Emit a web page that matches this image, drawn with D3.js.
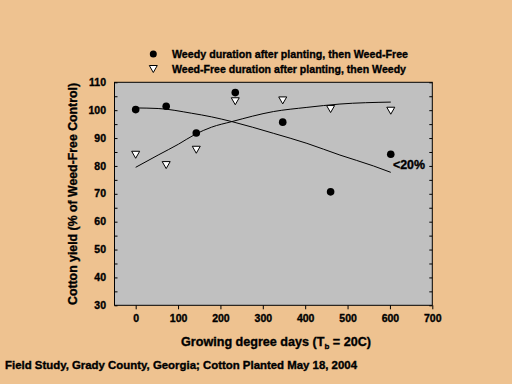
<!DOCTYPE html>
<html>
<head>
<meta charset="utf-8">
<script src="https://cdn.jsdelivr.net/npm/d3@7"></script>
<style>
  html, body { margin: 0; padding: 0; background: #eec290; }
  svg { display: block; font-family: 'Liberation Sans', Arial, sans-serif; font-weight: bold; }
  svg text { stroke: #000; stroke-width: 0.35px; }
</style>
</head>
<body>
<div id="chart"></div>
<script>
// growing degree days where yield was sampled
const gdd = [0, 72, 143, 235, 347, 460, 602];
// weedy duration after planting, then weed-free
const weedyYield = [100.2, 101.4, 91.8, 106.3, 95.7, 70.7, 84.2];
// weed-free duration after planting, then weedy
const weedFreeYield = [84, 80.3, 85.8, 103.2, 103.5, 100.4, 99.8];

// fitted trend lines
const weedyFitX = [0, 53, 132, 179, 227, 325, 404, 482, 561, 602];
const weedyFitY = [100.8, 100.6, 98.9, 97.6, 95.9, 91.7, 88.1, 83.9, 80.0, 77.7];
const weedFreeFitX = [0, 53, 101, 140, 179, 227, 325, 404, 482, 602];
const weedFreeFitY = [79.5, 83.9, 87.8, 91.3, 93.9, 95.9, 99.5, 101.0, 102.2, 102.9];

const xTicks = [0, 100, 200, 300, 400, 500, 600, 700];
const yTicks = [30, 40, 50, 60, 70, 80, 90, 100, 110];
const yMinorTicks = d3.range(30, 111, 5);

const legendLabels = [
  'Weedy duration after planting, then Weed-Free',
  'Weed-Free duration after planting, then Weedy'
];

const WIDTH = 512;
const HEIGHT = 384;

const svg = d3
  .select('#chart')
  .append('svg')
  .attr('width', WIDTH)
  .attr('height', HEIGHT);

svg.append('rect')
  .attr('width', WIDTH)
  .attr('height', HEIGHT)
  .attr('fill', '#eec290');

const x = d3.scaleLinear().domain([-50, 700]).range([114.5, 432.3]);
const y = d3.scaleLinear().domain([30, 110]).range([305.3, 82.3]);

// plot area
svg.append('rect')
  .attr('x', x(-50))
  .attr('y', y(110))
  .attr('width', x(700) - x(-50))
  .attr('height', y(30) - y(110))
  .attr('fill', '#c0c0c0')
  .attr('stroke', '#000')
  .attr('stroke-width', 1);

// left axis: small inside ticks every 5, labels every 10
const leftAxis = svg.append('g')
  .attr('transform', `translate(${x(-50)},0)`)
  .call(d3.axisRight(y).tickValues(yMinorTicks).tickSize(3).tickFormat(''));
leftAxis.select('.domain').remove();
leftAxis.selectAll('line').attr('stroke', '#000');

svg.append('g')
  .selectAll('text')
  .data(yTicks)
  .join('text')
  .attr('x', 106)
  .attr('y', (d) => y(d))
  .attr('dy', '0.35em')
  .attr('text-anchor', 'end')
  .attr('font-size', 10.5)
  .attr('fill', '#000')
  .text((d) => d);

// right axis, ticks pointing in
const rightAxis = svg.append('g')
  .attr('transform', `translate(${x(700)},0)`)
  .call(d3.axisLeft(y).tickValues(yMinorTicks).tickSize(3).tickFormat(''));
rightAxis.select('.domain').remove();
rightAxis.selectAll('line').attr('stroke', '#000');

// bottom axis
const bottomAxis = svg.append('g')
  .attr('transform', `translate(0,${y(30)})`)
  .call(d3.axisBottom(x).tickValues(xTicks).tickSize(4).tickPadding(5));
bottomAxis.select('.domain').remove();
bottomAxis.selectAll('line').attr('stroke', '#000');
bottomAxis.selectAll('text')
  .attr('font-size', 10.5)
  .attr('font-family', "'Liberation Sans', Arial, sans-serif")
  .attr('font-weight', 'bold')
  .attr('fill', '#000');

// trend lines
const line = d3.line()
  .x((d) => x(d[0]))
  .y((d) => y(d[1]))
  .curve(d3.curveMonotoneX);

svg.append('path')
  .datum(d3.zip(weedyFitX, weedyFitY))
  .attr('d', line)
  .attr('fill', 'none')
  .attr('stroke', '#000')
  .attr('stroke-width', 1);

svg.append('path')
  .datum(d3.zip(weedFreeFitX, weedFreeFitY))
  .attr('d', line)
  .attr('fill', 'none')
  .attr('stroke', '#000')
  .attr('stroke-width', 1);

// markers
const triangle = (cx, cy) => `M${cx - 4},${cy - 3.5}L${cx + 4},${cy - 3.5}L${cx},${cy + 3.5}Z`;

svg.append('g')
  .selectAll('circle')
  .data(d3.zip(gdd, weedyYield))
  .join('circle')
  .attr('cx', (d) => x(d[0]))
  .attr('cy', (d) => y(d[1]))
  .attr('r', 3.8)
  .attr('fill', '#000');

svg.append('g')
  .selectAll('path')
  .data(d3.zip(gdd, weedFreeYield))
  .join('path')
  .attr('d', (d) => triangle(x(d[0]), y(d[1])))
  .attr('fill', '#fff')
  .attr('stroke', '#000')
  .attr('stroke-width', 1);

// annotation
svg.append('text')
  .attr('x', 393)
  .attr('y', 168.5)
  .attr('font-size', 12)
  .attr('textLength', 32)
  .attr('lengthAdjust', 'spacingAndGlyphs')
  .attr('fill', '#000')
  .attr('stroke', '#1a2a6a')
  .text('<20%');

// legend
const legend = svg.append('g');
legend.append('circle')
  .attr('cx', 153.3)
  .attr('cy', 54)
  .attr('r', 3.5)
  .attr('fill', '#000');
legend.append('path')
  .attr('d', triangle(153.3, 69))
  .attr('fill', '#fff')
  .attr('stroke', '#000');
legend.selectAll('text')
  .data(legendLabels)
  .join('text')
  .attr('x', 172)
  .attr('y', (d, i) => 58 + i * 15)
  .attr('font-size', 11)
  .attr('textLength', (d, i) => (i === 0 ? 236 : 234))
  .attr('lengthAdjust', 'spacingAndGlyphs')
  .attr('fill', '#000')
  .text((d) => d);

// axis titles
svg.append('text')
  .attr('transform', 'translate(77,194) rotate(-90)')
  .attr('text-anchor', 'middle')
  .attr('font-size', 12)
  .attr('textLength', 222)
  .attr('lengthAdjust', 'spacingAndGlyphs')
  .attr('fill', '#000')
  .text('Cotton yield (% of Weed-Free Control)');

const xTitle = svg.append('text')
  .attr('x', 181)
  .attr('y', 346)
  .attr('font-size', 12.6)
  .attr('fill', '#000');
xTitle.append('tspan').text('Growing degree days (T');
xTitle.append('tspan').attr('font-size', 8).attr('dy', 3).text('b');
xTitle.append('tspan').attr('dy', -3).text(' = 20C)');

svg.append('text')
  .attr('x', 5)
  .attr('y', 369)
  .attr('font-size', 11)
  .attr('textLength', 352)
  .attr('lengthAdjust', 'spacingAndGlyphs')
  .attr('fill', '#000')
  .text('Field Study, Grady County, Georgia; Cotton Planted May 18, 2004');
</script>
</body>
</html>
